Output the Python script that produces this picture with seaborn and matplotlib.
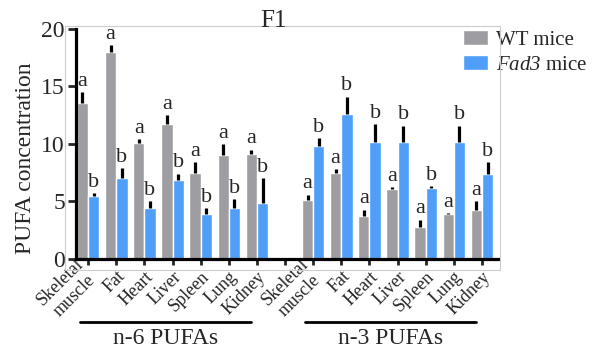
import matplotlib
matplotlib.use("Agg")
import numpy as np
import pandas as pd
import seaborn as sns
import matplotlib.pyplot as plt
from matplotlib.patches import Rectangle

# Values (PUFA concentration, mean and upper error)
tissues = ["Skeletal\nmuscle", "Fat", "Heart", "Liver", "Spleen", "Lung", "Kidney"]
groups = ["n-6 PUFAs", "n-3 PUFAs"]
genotypes = ["WT mice", "$Fad3$ mice"]

wt_n6 = [13.6, 18.0, 10.1, 11.7, 7.5, 9.0, 9.1]
wt_n6_err = [0.9, 0.6, 0.3, 0.8, 0.9, 1.0, 0.4]
fad3_n6 = [5.5, 7.0, 4.4, 6.9, 3.9, 4.4, 4.9]
fad3_n6_err = [0.2, 0.9, 0.6, 0.5, 0.5, 0.8, 2.1]

wt_n3 = [5.1, 7.5, 3.7, 6.1, 2.8, 3.9, 4.3]
wt_n3_err = [0.5, 0.3, 0.6, 0.15, 0.6, 0.1, 0.7]
fad3_n3 = [9.8, 12.6, 10.2, 10.2, 6.2, 10.2, 7.4]
fad3_n3_err = [0.7, 1.5, 1.5, 1.4, 0.15, 1.4, 1.0]

wt_letter = "a"
fad3_letter = "b"

# Build long table; a blank category separates the two PUFA groups
rows = []
order = []
tick_labels = []
for g, (wt, wte, fd, fde) in zip(groups, [(wt_n6, wt_n6_err, fad3_n6, fad3_n6_err),
                                           (wt_n3, wt_n3_err, fad3_n3, fad3_n3_err)]):
    if order:
        order.append("gap")
        tick_labels.append("")
    for t, a, ae, b, be in zip(tissues, wt, wte, fd, fde):
        key = g + " " + t
        order.append(key)
        tick_labels.append(t)
        rows.append({"key": key, "geno": genotypes[0], "value": a, "err": ae, "letter": wt_letter})
        rows.append({"key": key, "geno": genotypes[1], "value": b, "err": be, "letter": fad3_letter})
df = pd.DataFrame(rows)

sns.set_theme(style="ticks")
plt.rcParams["font.family"] = ["Liberation Serif", "DejaVu Serif"]
# math text only used for the italic gene name -> all italic serif
plt.rcParams["mathtext.fontset"] = "custom"
plt.rcParams["mathtext.it"] = "Liberation Serif:italic"
plt.rcParams["mathtext.rm"] = "Liberation Serif:italic"

fig = plt.figure(figsize=(6, 3.54), dpi=100)
ax = fig.add_axes([0.1267, 0.2684, 0.7033, 0.6497])

# light grey frame around the panel
fig.patches.append(Rectangle((0.108, 0.237), 0.725, 0.689, transform=fig.transFigure,
                             fill=False, edgecolor="#cccccc", linewidth=0.8))

palette = {genotypes[0]: "#9e9ea2", genotypes[1]: "#4f9ef8"}
sns.barplot(data=df, x="key", y="value", hue="geno", order=order, hue_order=genotypes,
            palette=palette, saturation=1, errorbar=None, width=0.8, ax=ax, legend=True)

# error bars (upper only) and significance letters
lookup = df.set_index(["key", "geno"])
for cont, geno in zip(ax.containers, genotypes):
    xs, ys, es, ls = [], [], [], []
    for bar in cont:
        xc = bar.get_x() + bar.get_width() / 2
        key = order[int(round(xc))]
        row = lookup.loc[(key, geno)]
        xs.append(xc)
        ys.append(bar.get_height())
        es.append(row["err"])
        ls.append(row["letter"])
    ax.errorbar(xs, ys, yerr=[np.zeros(len(es)), es], fmt="none", ecolor="black",
                elinewidth=2.3, capsize=0, zorder=3)
    for x, y, e, l in zip(xs, ys, es, ls):
        ax.annotate(l, (x, y + e), xytext=(0, 1), textcoords="offset points",
                    ha="center", va="bottom", fontsize=16, annotation_clip=False)

ax.set_ylim(0, 20)
ax.set_xlim(-0.43, len(order) - 1 + 0.57)
ax.set_yticks([0, 5, 10, 15, 20])
ax.set_xticks(range(len(order)))
ax.set_xticklabels(tick_labels, rotation=45, ha="right", rotation_mode="anchor",
                   fontsize=13, multialignment="center")
for lab in ax.get_xticklabels():
    if "\n" in lab.get_text():
        lab.set_va("center")
ax.tick_params(axis="y", labelsize=17, width=2, length=6, pad=2)
ax.tick_params(axis="x", width=2, length=4.5, pad=2)
ax.set_xlabel("")
ax.set_ylabel("PUFA concentration", fontsize=17)
ax.yaxis.set_label_coords(-0.094, 0.44)
for s in ["left", "bottom"]:
    ax.spines[s].set_linewidth(2.3)
    ax.spines[s].set_color("black")
sns.despine(ax=ax)

# group brackets below tick labels
trans = ax.get_xaxis_transform()
start = 0
for g in groups:
    end = start + len(tissues) - 1
    ax.plot([start - 0.28, end - 0.2], [-0.274, -0.274], color="black", lw=2,
            transform=trans, clip_on=False)
    ax.text((start + end) / 2 - 0.25, -0.345, g, transform=trans, ha="center",
            va="center", fontsize=17)
    start = end + 2

handles, labels = ax.get_legend_handles_labels()
ax.legend(handles, labels, loc="upper left", bbox_to_anchor=(463 / 600, 1 - 30 / 354),
          bbox_transform=fig.transFigure, frameon=False, fontsize=15, borderpad=0,
          borderaxespad=0, handlelength=1.2, handleheight=0.75, handletextpad=0.4,
          labelspacing=0.25)

fig.text(0.455, 0.94, "F1", ha="center", va="center", fontsize=18)

fig.savefig("out.png", dpi=100)
